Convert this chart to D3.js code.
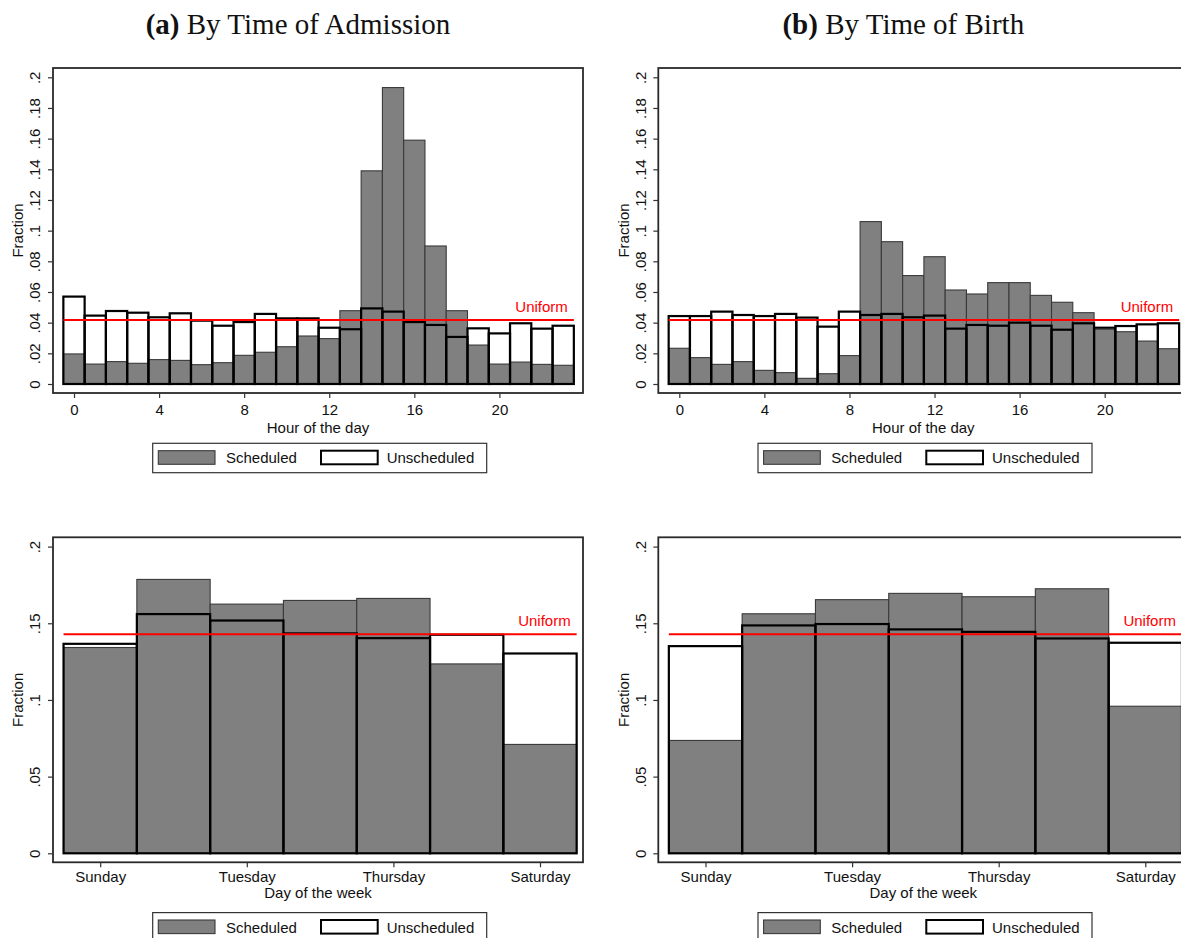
<!DOCTYPE html>
<html>
<head>
<meta charset="utf-8">
<script src="https://cdn.jsdelivr.net/npm/d3@7"></script>
<style>
  body { margin: 0; background: #fff; }
  svg { display: block; font-family: "Liberation Sans", Arial, sans-serif; }
</style>
</head>
<body>
<svg id="chart" width="1181" height="938"></svg>
<script>
// hour-of-day fractions
const hours = d3.range(24);
const admSched = [0.0196, 0.0130, 0.0146, 0.0135, 0.0159, 0.0154, 0.0126, 0.0139, 0.0187, 0.0207, 0.0243, 0.0313,
                  0.0296, 0.0478, 0.1390, 0.1933, 0.1590, 0.0900, 0.0478, 0.0254, 0.0130, 0.0143, 0.0128, 0.0122];
const admUnsched = [0.0570, 0.0446, 0.0476, 0.0465, 0.0435, 0.0461, 0.0413, 0.0380, 0.0404, 0.0457, 0.0428, 0.0428,
                    0.0367, 0.0357, 0.0493, 0.0472, 0.0404, 0.0385, 0.0307, 0.0363, 0.0330, 0.0396, 0.0361, 0.0380];
const birthSched = [0.0233, 0.0172, 0.0128, 0.0146, 0.0089, 0.0074, 0.0037, 0.0067, 0.0185, 0.1059, 0.0928, 0.0707,
                    0.0830, 0.0613, 0.0587, 0.0661, 0.0661, 0.0578, 0.0533, 0.0465, 0.0357, 0.0341, 0.0280, 0.0230];
const birthUnsched = [0.0443, 0.0443, 0.0472, 0.0450, 0.0443, 0.0457, 0.0433, 0.0374, 0.0472, 0.0450, 0.0457, 0.0435,
                      0.0446, 0.0361, 0.0385, 0.0380, 0.0400, 0.0380, 0.0354, 0.0396, 0.0367, 0.0378, 0.0389, 0.0396];
const hourTicks = [0, 4, 8, 12, 16, 20];
const hourYTicks = [0, 0.02, 0.04, 0.06, 0.08, 0.1, 0.12, 0.14, 0.16, 0.18, 0.2];

// day-of-week fractions
const days = ["Sunday", "Monday", "Tuesday", "Wednesday", "Thursday", "Friday", "Saturday"];
const dayAdmSched = [0.1342, 0.1786, 0.1625, 0.1649, 0.1662, 0.1235, 0.0710];
const dayAdmUnsched = [0.1366, 0.1560, 0.1518, 0.1434, 0.1403, 0.1425, 0.1303];
const dayBirthSched = [0.0736, 0.1562, 0.1654, 0.1695, 0.1673, 0.1725, 0.0959];
const dayBirthUnsched = [0.1351, 0.1486, 0.1495, 0.1460, 0.1444, 0.1401, 0.1373];
const dayTicks = [0, 2, 4, 6];
const dayYTicks = [0, 0.05, 0.1, 0.15, 0.2];

const titles = [["(a)", "By Time of Admission"], ["(b)", "By Time of Birth"]];

const svg = d3.select("#chart");
const frame = { left: 53, top: 68, width: 530, height: 325 };
const fmtY = v => v === 0 ? "0" : String(+v.toFixed(2)).replace(/^0/, "");

function panel(ox, oy, o) {
  const g = svg.append("g").attr("transform", `translate(${ox},${oy})`);
  const x = d3.scaleLinear().domain(o.xDomain).range([frame.left, frame.left + frame.width]);
  const y = d3.scaleLinear().domain([0, 0.2]).range([frame.top + 316, frame.top + 9.3]);
  const n = o.sched.length;

  g.append("rect")
    .attr("x", frame.left).attr("y", frame.top)
    .attr("width", frame.width).attr("height", frame.height)
    .attr("fill", "none").attr("stroke", "#2a2a2a").attr("stroke-width", 1.8);

  // y axis
  const ya = g.append("g").attr("transform", `translate(${frame.left},0)`)
    .call(d3.axisLeft(y).tickValues(o.yTicks).tickFormat(fmtY).tickSize(5).tickSizeOuter(0));
  ya.select(".domain").remove();
  ya.selectAll(".tick line").attr("stroke", "#333").attr("stroke-width", 1.2);
  ya.selectAll(".tick text")
    .attr("transform", "rotate(-90)")
    .attr("x", 0).attr("y", -18).attr("dy", "0.36em")
    .attr("text-anchor", "middle")
    .attr("font-size", 15).attr("fill", "#111");

  // x axis
  const xa = g.append("g").attr("transform", `translate(0,${frame.top + frame.height})`)
    .call(d3.axisBottom(x).tickValues(o.xTicks).tickFormat(o.xFormat).tickSize(5).tickPadding(o.tickPad).tickSizeOuter(0));
  xa.select(".domain").remove();
  xa.selectAll(".tick line").attr("stroke", "#333").attr("stroke-width", 1.2);
  xa.selectAll(".tick text").attr("font-size", 15).attr("fill", "#111");

  g.append("text")
    .attr("x", frame.left + frame.width / 2).attr("y", frame.top + frame.height + o.titleGap)
    .attr("text-anchor", "middle").attr("font-size", 15).attr("fill", "#111")
    .text(o.xTitle);

  g.append("text")
    .attr("transform", `translate(18,${frame.top + frame.height / 2}) rotate(-90)`)
    .attr("dy", "0.36em")
    .attr("text-anchor", "middle").attr("font-size", 15).attr("fill", "#111")
    .text("Fraction");

  // scheduled bars (filled)
  g.append("g").selectAll("rect")
    .data(o.sched)
    .join("rect")
    .attr("x", (d, i) => x(i - 0.5))
    .attr("y", d => y(d))
    .attr("width", (d, i) => x(i + 0.5) - x(i - 0.5))
    .attr("height", d => y(0) - y(d))
    .attr("fill", "#808080").attr("stroke", "#3a3a3a").attr("stroke-width", 1.1);

  // unscheduled bars (outline only)
  g.append("g").selectAll("rect")
    .data(o.unsched)
    .join("rect")
    .attr("x", (d, i) => x(i - 0.5))
    .attr("y", d => y(d))
    .attr("width", (d, i) => x(i + 0.5) - x(i - 0.5))
    .attr("height", d => y(0) - y(d))
    .attr("fill", "none").attr("stroke", "#000").attr("stroke-width", 2.2);

  // uniform reference
  g.append("line")
    .attr("x1", x(-0.5)).attr("x2", x(n - 0.5))
    .attr("y1", y(o.uniform)).attr("y2", y(o.uniform))
    .attr("stroke", "#ff0000").attr("stroke-width", 2);
  g.append("text")
    .attr("x", x(n - 0.5) - 6).attr("y", y(o.uniform) - 8)
    .attr("text-anchor", "end").attr("font-size", 15).attr("fill", "#ff0000")
    .text("Uniform");

  // legend
  const lg = g.append("g").attr("transform", `translate(152.7,${frame.top + frame.height + 50.3})`);
  lg.append("rect").attr("width", 334).attr("height", 29.4)
    .attr("fill", "#fff").attr("stroke", "#333").attr("stroke-width", 1.2);
  lg.append("rect").attr("x", 5.6).attr("y", 7.4).attr("width", 56.7).attr("height", 13.6)
    .attr("fill", "#808080").attr("stroke", "#3a3a3a").attr("stroke-width", 1.1);
  lg.append("text").attr("x", 73.3).attr("y", 20).attr("font-size", 15).attr("fill", "#111").text("Scheduled");
  lg.append("rect").attr("x", 168.3).attr("y", 7.4).attr("width", 56.7).attr("height", 13.6)
    .attr("fill", "#fff").attr("stroke", "#000").attr("stroke-width", 2);
  lg.append("text").attr("x", 234).attr("y", 20).attr("font-size", 15).attr("fill", "#111").text("Unscheduled");
}

const hourDomain = [-21 / 21.27, -21 / 21.27 + 530 / 21.27];
const dayDomain = [-47.2 / 73.3, -47.2 / 73.3 + 530 / 73.3];
const dx = 605.3, dy = 469.3;

panel(0, 0, { xDomain: hourDomain, sched: admSched, unsched: admUnsched, uniform: 1 / 24,
  yTicks: hourYTicks, xTicks: hourTicks, xFormat: d3.format("d"), xTitle: "Hour of the day", tickPad: 6, titleGap: 40 });
panel(dx, 0, { xDomain: hourDomain, sched: birthSched, unsched: birthUnsched, uniform: 1 / 24,
  yTicks: hourYTicks, xTicks: hourTicks, xFormat: d3.format("d"), xTitle: "Hour of the day", tickPad: 6, titleGap: 40 });
panel(0, dy, { xDomain: dayDomain, sched: dayAdmSched, unsched: dayAdmUnsched, uniform: 1 / 7,
  yTicks: dayYTicks, xTicks: dayTicks, xFormat: i => days[i], xTitle: "Day of the week", tickPad: 4, titleGap: 36 });
panel(dx, dy, { xDomain: dayDomain, sched: dayBirthSched, unsched: dayBirthUnsched, uniform: 1 / 7,
  yTicks: dayYTicks, xTicks: dayTicks, xFormat: i => days[i], xTitle: "Day of the week", tickPad: 4, titleGap: 36 });

// subfigure captions
titles.forEach((t, i) => {
  const tx = svg.append("text")
    .attr("x", 298 + i * dx).attr("y", 34)
    .attr("text-anchor", "middle")
    .attr("font-family", "'Liberation Serif', 'DejaVu Serif', serif")
    .attr("font-size", 29).attr("fill", "#111");
  tx.append("tspan").attr("font-weight", "bold").text(t[0]);
  tx.append("tspan").text(" " + t[1]);
});
</script>
</body>
</html>
